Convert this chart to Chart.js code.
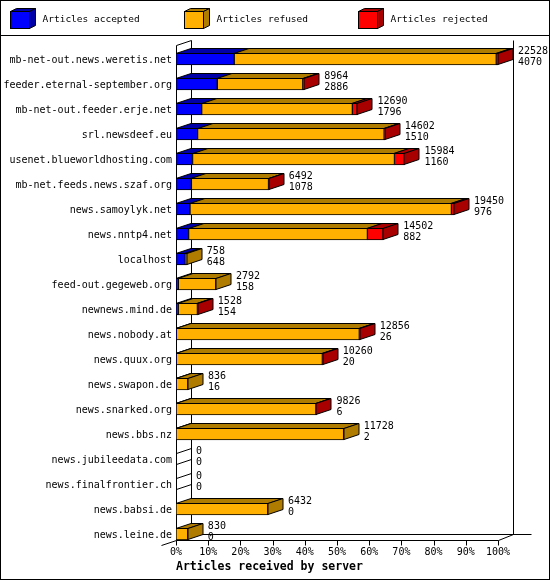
<!DOCTYPE html>
<html lang="en">
<head>
<meta charset="UTF-8">
<title>Articles received by server</title>
<style>
    body {
        margin: 0;
        background: #ffffff;
    }
    #wrap {
        width: 550px;
        height: 580px;
    }
</style>
</head>
<body>
<div id="wrap"><canvas id="feedChart" width="550" height="580"></canvas></div>

<script src="https://cdn.jsdelivr.net/npm/chart.js"></script>
<script>
// Peers, one row each
const hosts = [
    'mb-net-out.news.weretis.net',
    'feeder.eternal-september.org',
    'mb-net-out.feeder.erje.net',
    'srl.newsdeef.eu',
    'usenet.blueworldhosting.com',
    'mb-net.feeds.news.szaf.org',
    'news.samoylyk.net',
    'news.nntp4.net',
    'localhost',
    'feed-out.gegeweb.org',
    'newnews.mind.de',
    'news.nobody.at',
    'news.quux.org',
    'news.swapon.de',
    'news.snarked.org',
    'news.bbs.nz',
    'news.jubileedata.com',
    'news.finalfrontier.ch',
    'news.babsi.de',
    'news.leine.de'
];

// Article counts per peer
const accepted = [4070, 2886, 1796, 1510, 1160, 1078, 976, 882, 648, 158, 154, 26, 20, 16, 6, 2, 0, 0, 0, 0];
const refused  = [18338, 5988, 10544, 13052, 14124, 5394, 18294, 12510, 110, 2634, 1344, 12800, 10220, 820, 9800, 11726, 0, 0, 6432, 830];
const rejected = [120, 90, 350, 40, 700, 20, 180, 1110, 0, 0, 30, 30, 20, 0, 20, 0, 0, 0, 0, 0];

const tickPercents = [0, 10, 20, 30, 40, 50, 60, 70, 80, 90, 100];
const seriesNames = ['Articles accepted', 'Articles refused', 'Articles rejected'];
const faceColors = ['#0000ff', '#ffb000', '#ff0000'];
const shadeColors = ['#0000a8', '#b07c00', '#a80000'];

const series = [accepted, refused, rejected];
const totals = hosts.map((_, i) => accepted[i] + refused[i] + rejected[i]);
const maxTotal = Math.max(...totals);

const MONO = '"DejaVu Sans Mono", "Liberation Mono", monospace';
const BAR = 12;      // front face height
const DX = 15;       // 3d depth, x
const DY = 5;        // 3d depth, y

function poly(ctx, pts, fill) {
    ctx.beginPath();
    ctx.moveTo(pts[0][0], pts[0][1]);
    for (let i = 1; i < pts.length; i++) ctx.lineTo(pts[i][0], pts[i][1]);
    ctx.closePath();
    if (fill) {
        ctx.fillStyle = fill;
        ctx.fill();
    }
    ctx.stroke();
}

function line(ctx, x1, y1, x2, y2) {
    ctx.beginPath();
    ctx.moveTo(x1, y1);
    ctx.lineTo(x2, y2);
    ctx.stroke();
}

const frame3d = {
    id: 'frame3d',
    beforeDraw(chart) {
        const { ctx, width, height } = chart;
        ctx.save();
        ctx.fillStyle = '#ffffff';
        ctx.fillRect(0, 0, width, height);
        ctx.restore();
    },
    beforeDatasetsDraw(chart) {
        // walls and floor of the box
        const { ctx, chartArea, scales: { x, y } } = chart;
        const left = Math.round(x.getPixelForValue(0)) + 0.5;
        const right = Math.round(x.getPixelForValue(maxTotal)) + 0.5;
        const floor = Math.round(y.getPixelForValue(hosts.length - 1) + BAR / 2) + 0.5;
        const top = Math.round(chartArea.top) - 6.5;

        ctx.save();
        ctx.strokeStyle = '#000';
        ctx.lineWidth = 1;
        line(ctx, left, top + DY, left, floor);
        line(ctx, left, top + DY, left + DX, top);
        line(ctx, left + DX, top, left + DX, floor - DY - 1);
        line(ctx, right + DX, top, right + DX, floor - DY - 1);
        line(ctx, left, floor, right, floor);
        line(ctx, right, floor, right + DX, floor - DY - 1);
        line(ctx, left + DX, floor - DY - 1, right + DX + 18, floor - DY - 1);
        line(ctx, left - DX, floor + DY, left, floor);
        x.ticks.forEach(t => {
            const tx = Math.round(x.getPixelForValue(t.value)) + 0.5;
            line(ctx, tx, floor, tx, floor + 5);
        });
        ctx.restore();
    },
    afterDatasetsDraw(chart) {
        const { ctx, scales: { x } } = chart;
        const metas = series.map((_, i) => chart.getDatasetMeta(i));
        ctx.save();
        ctx.strokeStyle = '#000';
        ctx.lineWidth = 1;
        hosts.forEach((host, row) => {
            const cy = metas[0].data[row].y;
            const t = Math.round(cy - BAR / 2) + 0.5;
            const b = t + BAR - 1;
            let last = -1;
            let end = Math.round(x.getPixelForValue(0));
            series.forEach((values, di) => {
                if (values[row] <= 0) return;
                const bar = metas[di].data[row];
                const x0 = Math.round(bar.base);
                const x1 = Math.round(bar.x);
                poly(ctx, [[x0, t], [x1, t], [x1 + DX, t - DY], [x0 + DX, t - DY]], shadeColors[di]);
                last = di;
                end = x1;
            });
            if (last >= 0) {
                poly(ctx, [[end, t], [end + DX, t - DY], [end + DX, b - DY], [end, b]], shadeColors[last]);
            } else {
                const x0 = Math.round(x.getPixelForValue(0)) + 0.5;
                line(ctx, x0, t, x0 + DX, t - DY);
                line(ctx, x0, b, x0 + DX, b - DY);
            }

            // total and accepted beside the bar
            const tx = x.getPixelForValue(totals[row]) + DX + 5;
            ctx.fillStyle = '#000';
            ctx.font = '10px ' + MONO;
            ctx.textAlign = 'left';
            ctx.textBaseline = 'alphabetic';
            ctx.fillText(String(totals[row]), tx, cy - 5.5);
            ctx.fillText(String(accepted[row]), tx, cy + 5.5);
        });
        ctx.restore();
    },
    afterDraw(chart) {
        const { ctx, width, height } = chart;
        ctx.save();
        ctx.strokeStyle = '#000';
        ctx.lineWidth = 1;
        ctx.strokeRect(0.5, 0.5, width - 1, height - 1);
        line(ctx, 0, 35.5, width, 35.5);

        // legend with little cubes
        ctx.font = '9.5px ' + MONO;
        ctx.textAlign = 'left';
        ctx.textBaseline = 'middle';
        seriesNames.forEach((name, i) => {
            const bx = 10.5 + i * 174;
            const by = 11.5;
            const bw = 19, bh = 17, d = 6, e = 3;
            ctx.fillStyle = faceColors[i];
            ctx.fillRect(bx, by, bw, bh);
            ctx.strokeRect(bx, by, bw, bh);
            poly(ctx, [[bx, by], [bx + d, by - e], [bx + bw + d, by - e], [bx + bw, by]], shadeColors[i]);
            poly(ctx, [[bx + bw, by], [bx + bw + d, by - e], [bx + bw + d, by + bh - e], [bx + bw, by + bh]], shadeColors[i]);
            ctx.fillStyle = '#000';
            ctx.fillText(name, bx + 32, 20);
        });
        ctx.restore();
    }
};

const ctx = document.getElementById('feedChart').getContext('2d');

const chart = new Chart(ctx, {
    type: 'bar',
    data: {
        labels: hosts,
        datasets: series.map((data, i) => ({
            label: seriesNames[i],
            data: data,
            backgroundColor: faceColors[i],
            borderColor: '#000',
            borderWidth: 1,
            borderSkipped: false,
            barThickness: BAR
        }))
    },
    options: {
        indexAxis: 'y',
        responsive: false,
        animation: false,
        devicePixelRatio: 1,
        layout: {
            padding: { left: 4, right: 52, top: 46.5, bottom: 0 }
        },
        plugins: {
            legend: { display: false },
            tooltip: { enabled: false }
        },
        scales: {
            x: {
                stacked: true,
                min: 0,
                max: maxTotal,
                grid: { display: false, drawTicks: false },
                border: { display: false },
                afterBuildTicks: scale => {
                    scale.ticks = tickPercents.map(p => ({ value: p / 100 * maxTotal }));
                },
                afterFit: scale => { scale.height = 33.5; },
                ticks: {
                    color: '#000',
                    font: { family: MONO, size: 10 },
                    padding: 0,
                    maxRotation: 0,
                    autoSkip: false,
                    callback: value => Math.round(value / maxTotal * 100) + '%'
                },
                title: {
                    display: true,
                    text: 'Articles received by server',
                    align: 'start',
                    color: '#000',
                    font: { family: MONO, size: 11.5, weight: 'bold' },
                    padding: { top: 0, bottom: 6 }
                }
            },
            y: {
                stacked: true,
                grid: { display: false, drawTicks: false },
                border: { display: false },
                afterFit: scale => { scale.width = 172; },
                ticks: {
                    color: '#000',
                    font: { family: MONO, size: 10 },
                    padding: 4,
                    labelOffset: 1.5,
                    autoSkip: false
                }
            }
        }
    },
    plugins: [frame3d]
});
</script>
</body>
</html>
